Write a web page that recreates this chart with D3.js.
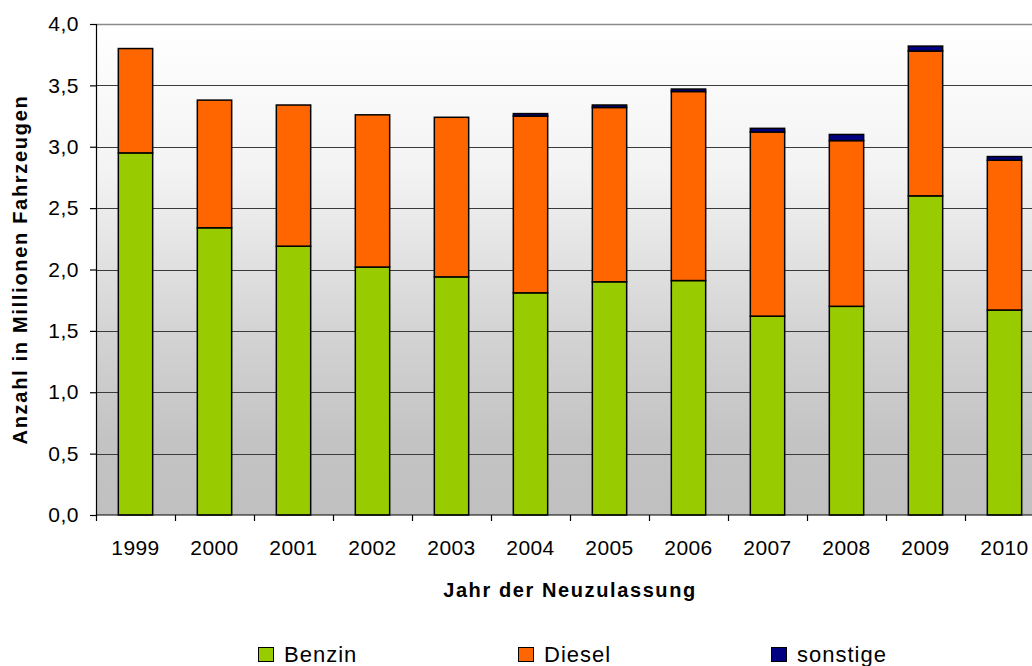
<!DOCTYPE html>
<html>
<head>
<meta charset="utf-8">
<script src="https://cdn.jsdelivr.net/npm/d3@7"></script>
<style>
  html, body { margin: 0; padding: 0; background: #ffffff; }
  svg { display: block; }
  text { font-family: "Liberation Sans", Arial, sans-serif; fill: #000; }
</style>
</head>
<body>
<svg id="chart" width="1032" height="666"></svg>
<script>
// ---- Data ----
const years = ["1999","2000","2001","2002","2003","2004","2005","2006","2007","2008","2009","2010"];
const benzin   = [2.95, 2.34, 2.19, 2.02, 1.94, 1.81, 1.90, 1.91, 1.62, 1.70, 2.60, 1.67];
const diesel   = [0.85, 1.04, 1.15, 1.24, 1.30, 1.44, 1.42, 1.54, 1.50, 1.35, 1.18, 1.22];
const sonstige = [0.00, 0.00, 0.00, 0.00, 0.00, 0.02, 0.02, 0.02, 0.03, 0.05, 0.04, 0.03];
const seriesNames = ["Benzin", "Diesel", "sonstige"];
const yTicks = [0, 0.5, 1.0, 1.5, 2.0, 2.5, 3.0, 3.5, 4.0];
const yTitle = "Anzahl in Millionen Fahrzeugen";
const xTitle = "Jahr der Neuzulassung";

// ---- Layout ----
const plot = { left: 96, top: 24, bottom: 515, right: 1044 };
const colors = { Benzin: "#99cc00", Diesel: "#ff6600", sonstige: "#000080" };

const svg = d3.select("#chart");

const x = d3.scaleBand().domain(years).range([plot.left, plot.right]).padding(0);
const y = d3.scaleLinear().domain([0, 4]).range([plot.bottom, plot.top]);
const barW = x.bandwidth() / 2.3;

// background gradient
const defs = svg.append("defs");
const grad = defs.append("linearGradient").attr("id", "bg")
  .attr("x1", 0).attr("y1", 0).attr("x2", 0).attr("y2", 1);
[[0, "#ffffff"], [0.3, "#f3f3f3"], [0.62, "#d4d4d4"], [0.85, "#c3c3c3"], [1, "#c0c0c0"]]
  .forEach(([o, c]) => grad.append("stop").attr("offset", o).attr("stop-color", c));

svg.append("rect")
  .attr("x", plot.left).attr("y", plot.top)
  .attr("width", plot.right - plot.left).attr("height", plot.bottom - plot.top)
  .attr("fill", "url(#bg)");

// gridlines
svg.append("g").selectAll("line")
  .data(yTicks.filter(t => t > 0))
  .join("line")
  .attr("x1", plot.left).attr("x2", plot.right)
  .attr("y1", d => Math.round(y(d)) + 0.5).attr("y2", d => Math.round(y(d)) + 0.5)
  .attr("stroke", d => d === 4 ? "#8a8a8a" : "#3a3a3a")
  .attr("stroke-width", d => d === 4 ? 1.5 : 1.2);

// stacked bars
const rows = years.map((yr, i) => ({ year: yr, Benzin: benzin[i], Diesel: diesel[i], sonstige: sonstige[i] }));
const stack = d3.stack().keys(seriesNames)(rows);

const gBars = svg.append("g");
stack.forEach(layer => {
  gBars.append("g")
    .attr("fill", colors[layer.key])
    .selectAll("rect")
    .data(layer.filter(d => d[1] - d[0] > 0))
    .join("rect")
    .attr("x", d => x(d.data.year) + (x.bandwidth() - barW) / 2)
    .attr("y", d => y(d[1]))
    .attr("width", barW)
    .attr("height", d => y(d[0]) - y(d[1]))
    .attr("stroke", "#000")
    .attr("stroke-width", 1.5);
});

// y axis
const yAxis = svg.append("g")
  .attr("transform", `translate(${plot.left},0)`)
  .call(d3.axisLeft(y).tickValues(yTicks).tickSize(6).tickPadding(11)
    .tickFormat(d => d3.format(".1f")(d).replace(".", ",")));
yAxis.select(".domain").attr("stroke", "#000").attr("stroke-width", 1.2);
yAxis.selectAll(".tick line").attr("stroke", "#000").attr("stroke-width", 1.2);
yAxis.selectAll(".tick text")
  .style("font-size", "21px").style("letter-spacing", "0.5px")
  .style("font-family", "'Liberation Sans', Arial, sans-serif").attr("fill", "#000");

// x axis: labels
const xAxis = svg.append("g")
  .attr("transform", `translate(0,${plot.bottom})`)
  .call(d3.axisBottom(x).tickSize(0).tickPadding(25));
xAxis.select(".domain").remove();
xAxis.selectAll(".tick text")
  .style("font-size", "21px").style("letter-spacing", "0.4px")
  .style("font-family", "'Liberation Sans', Arial, sans-serif").attr("fill", "#000");
// x axis line
svg.append("line")
  .attr("x1", plot.left).attr("x2", plot.right)
  .attr("y1", plot.bottom).attr("y2", plot.bottom)
  .attr("stroke", "#000").attr("stroke-width", 1.2);
// boundary ticks
svg.append("g").selectAll("line")
  .data(years)
  .join("line")
  .attr("x1", d => Math.round(x(d)) + 0.5).attr("x2", d => Math.round(x(d)) + 0.5)
  .attr("y1", plot.bottom).attr("y2", plot.bottom + 6)
  .attr("stroke", "#000").attr("stroke-width", 1.2);

// axis titles
svg.append("text")
  .attr("x", (plot.left + plot.right) / 2).attr("y", 597)
  .attr("text-anchor", "middle")
  .style("font-size", "20px").style("font-weight", "bold").style("letter-spacing", "1.6px")
  .text(xTitle);

svg.append("text")
  .attr("transform", `translate(27,${(plot.top + plot.bottom) / 2}) rotate(-90)`)
  .attr("text-anchor", "middle")
  .style("font-size", "20px").style("font-weight", "bold").style("letter-spacing", "1.7px")
  .text(yTitle);

// legend
const legendX = [258, 518, 771];
const legend = svg.append("g");
seriesNames.forEach((name, i) => {
  const g = legend.append("g").attr("transform", `translate(${legendX[i]},0)`);
  g.append("rect").attr("x", 0.5).attr("y", 647.5).attr("width", 15).attr("height", 14)
    .attr("fill", colors[name]).attr("stroke", "#000").attr("stroke-width", 1);
  g.append("text").attr("x", 26).attr("y", 662)
    .style("font-size", "22px").style("letter-spacing", "1px")
    .text(name);
});
</script>
</body>
</html>
